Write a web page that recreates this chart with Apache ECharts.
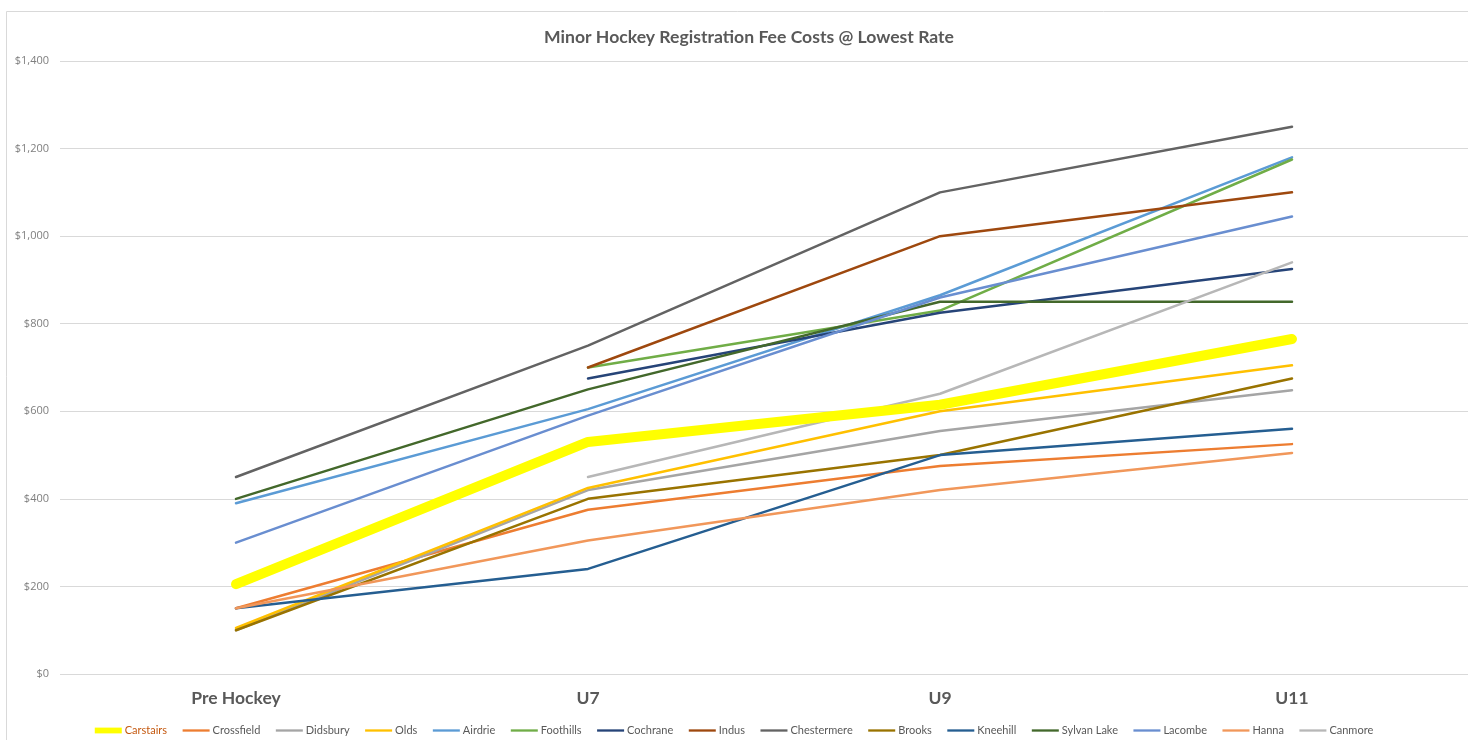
<!DOCTYPE html>
<html>
<head>
<meta charset="utf-8">
<script src="https://cdn.jsdelivr.net/npm/echarts@6/dist/echarts.min.js"></script>
<style>
html,body{margin:0;padding:0;background:#fff;}
#chart{width:1468px;height:740px;}
</style>
</head>
<body>
<div id="chart"></div>
<script>
const categories = ['Pre Hockey', 'U7', 'U9', 'U11'];
const yTicks = [0, 200, 400, 600, 800, 1000, 1200, 1400];

const carstairs   = [205, 530, 615, 765];
const crossfield  = [150, 375, 475, 525];
const didsbury    = [100, 420, 555, 648];
const olds        = [105, 425, 600, 705];
const airdrie     = [390, 605, 865, 1180];
const foothills   = [null, 700, 830, 1175];
const cochrane    = [null, 675, 825, 925];
const indus       = [null, 700, 1000, 1100];
const chestermere = [450, 750, 1100, 1250];
const brooks      = [100, 400, 500, 675];
const kneehill    = [150, 240, 500, 560];
const sylvanLake  = [400, 650, 850, 850];
const lacombe     = [300, 590, 860, 1045];
const hanna       = [150, 305, 420, 505];
const canmore     = [null, 450, 640, 940];

const seriesDefs = [
  ['Carstairs', carstairs, '#FFFF00', 10],
  ['Crossfield', crossfield, '#ED7D31', 2.5],
  ['Didsbury', didsbury, '#A5A5A5', 2.5],
  ['Olds', olds, '#FFC000', 2.5],
  ['Airdrie', airdrie, '#5B9BD5', 2.5],
  ['Foothills', foothills, '#70AD47', 2.5],
  ['Cochrane', cochrane, '#264478', 2.5],
  ['Indus', indus, '#9E480E', 2.5],
  ['Chestermere', chestermere, '#636363', 2.5],
  ['Brooks', brooks, '#997300', 2.5],
  ['Kneehill', kneehill, '#255E91', 2.5],
  ['Sylvan Lake', sylvanLake, '#43682B', 2.5],
  ['Lacombe', lacombe, '#698ED0', 2.5],
  ['Hanna', hanna, '#F1975A', 2.5],
  ['Canmore', canmore, '#B7B7B7', 2.5]
];

const thinIcon = 'path://M0,0M28,6M0,1.8H28V4.2H0Z';
const thickIcon = 'path://M0,0H28V6H0Z';

const chart = echarts.init(document.getElementById('chart'), null, {renderer: 'canvas'});
const option = {
  animation: false,
  backgroundColor: '#ffffff',
  title: {
    text: 'Minor Hockey Registration Fee Costs @ Lowest Rate',
    left: 744, textAlign: 'center', top: 23,
    textStyle: {fontFamily: 'Lato', fontWeight: 'bold', fontSize: 17.6, color: '#595959'}
  },
  graphic: [{
    type: 'rect', z: -1, silent: true,
    shape: {x: 6.5, y: 11.5, width: 1480, height: 760},
    style: {fill: 'none', stroke: '#d9d9d9', lineWidth: 1}
  }],
  legend: {
    bottom: -1, left: 'center',
    itemWidth: 27, itemHeight: 6, itemGap: 15.5,
    textStyle: {fontFamily: 'Lato', fontSize: 11, color: '#595959', padding: [0, 0, 0, -2]},
    data: seriesDefs.map(d => d[0] === 'Carstairs'
      ? {name: d[0], icon: thickIcon, textStyle: {color: '#C55A11'}}
      : {name: d[0], icon: thinIcon})
  },
  grid: {left: 60, right: -7, top: 61, bottom: 66, containLabel: false},
  xAxis: {
    type: 'category', data: categories, boundaryGap: true,
    axisLine: {show: false}, axisTick: {show: false},
    axisLabel: {fontFamily: 'Lato', fontWeight: 'bold', fontSize: 17.5, color: '#595959', margin: 15}
  },
  yAxis: {
    type: 'value', min: 0, max: 1400, interval: 200,
    axisLine: {show: false}, axisTick: {show: false},
    splitLine: {lineStyle: {color: '#d9d9d9', width: 1}},
    axisLabel: {
      fontFamily: 'Open Sans', fontSize: 11, color: '#7f7f7f', margin: 11,
      formatter: v => '$' + v.toLocaleString('en-US')
    }
  },
  series: seriesDefs.map((d, i) => ({
    name: d[0], type: 'line', data: d[1],
    symbol: 'none', smooth: false, connectNulls: false,
    z: d[0] === 'Carstairs' ? 3 : 2,
    lineStyle: {color: d[2], width: d[3], cap: 'round', join: 'round'},
    itemStyle: {color: d[2]}
  }))
};
chart.setOption(option);
</script>
</body>
</html>
